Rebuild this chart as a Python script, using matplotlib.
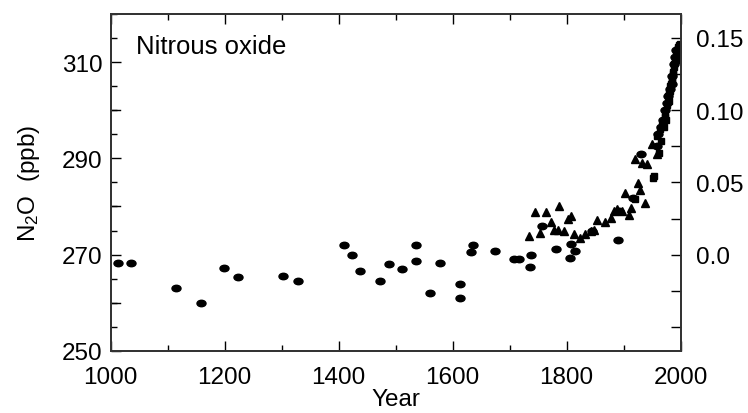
import matplotlib
matplotlib.use('Agg')
import matplotlib.pyplot as plt
from matplotlib.path import Path
from matplotlib.transforms import Affine2D
from matplotlib.ticker import MultipleLocator, FixedLocator

plt.rcParams['font.family'] = ['Liberation Sans', 'DejaVu Sans']
plt.rcParams['mathtext.fontset'] = 'custom'
plt.rcParams['mathtext.rm'] = 'Liberation Sans'
plt.rcParams['mathtext.default'] = 'regular'

# ice core samples (circles)
circle_year = [1012, 1036, 1115, 1159, 1198, 1224, 1302, 1329, 1410, 1424, 1437,
               1473, 1488, 1511, 1536, 1536, 1561, 1578, 1612, 1613, 1633, 1635,
               1675, 1708, 1716, 1735, 1738, 1756, 1782, 1805, 1807, 1814, 1845,
               1890, 1892, 1917, 1931]
circle_ppb = [268.3, 268.3, 263.0, 260.0, 267.3, 265.3, 265.6, 264.6, 271.9, 270.0, 266.7,
              264.6, 268.0, 267.0, 272.0, 268.6, 262.0, 268.2, 264.0, 261.0, 270.6, 272.0,
              270.7, 269.1, 269.1, 267.5, 269.9, 276.0, 271.2, 269.3, 272.3, 270.7, 275.0,
              273.1, 279.0, 281.8, 291.0]

# second core (triangles)
tri_year = [1734, 1744, 1754, 1764, 1773, 1778, 1784, 1787, 1795, 1803, 1808, 1813,
            1824, 1833, 1842, 1848, 1853, 1868, 1877, 1883, 1888, 1897, 1903, 1909,
            1913, 1919, 1925, 1929, 1933, 1938, 1941, 1950, 1958]
tri_ppb = [273.8, 278.8, 274.5, 278.9, 276.8, 275.2, 275.2, 280.0, 274.9, 277.3, 278.0, 274.2,
           273.4, 274.2, 274.9, 275.2, 277.1, 276.8, 277.6, 279.0, 279.4, 279.0, 282.8, 278.3,
           279.7, 289.9, 284.9, 283.5, 289.1, 280.8, 288.8, 293.0, 290.8]

# firn air and atmospheric measurements (squares)
sq_year = [1920, 1951, 1953, 1959, 1962, 1964, 1966, 1968, 1970, 1972, 1973, 1975, 1976,
           1978, 1979, 1980, 1981, 1982, 1983, 1984, 1985, 1986, 1987, 1988, 1989, 1990,
           1991, 1992, 1993, 1994, 1995, 1996, 1997, 1998]
sq_ppb = [281.5, 286.0, 286.3, 294.6, 291.2, 296.0, 293.5, 297.0, 296.5, 298.5, 299.5, 298.0, 301.0,
          303.0, 302.0, 303.5, 304.0, 305.0, 305.5, 306.5, 306.5, 307.5, 308.0, 309.0, 309.5, 310.0,
          310.5, 311.5, 312.0, 312.4, 312.8, 313.2, 313.6, 313.8]

# later firn samples overlapping the square series (circles)
firn_year = [1958, 1961, 1965, 1969, 1973, 1976, 1978, 1981, 1984, 1985, 1988, 1990, 1992]
firn_ppb = [292.5, 295.0, 296.5, 298.0, 300.0, 301.5, 303.0, 304.5, 305.5, 307.0, 309.5, 311.0, 312.4]

ellipse = Path.unit_circle().transformed(Affine2D().scale(1.4, 1.0))

fig = plt.figure(figsize=(7.48, 4.14), dpi=100)
ax = fig.add_axes([0.148, 0.150, 0.762, 0.814])

ax.plot(circle_year, circle_ppb, ls='none', marker=ellipse, ms=6.5, color='k', clip_on=False)
ax.plot(tri_year, tri_ppb, ls='none', marker='^', ms=5.2, color='k')
ax.plot(sq_year, sq_ppb, ls='none', marker='s', ms=5.0, color='k')
ax.plot(firn_year, firn_ppb, ls='none', marker=ellipse, ms=6.5, color='k')

ax.set_xlim(1000, 2000)
ax.set_ylim(250, 320)

ax.xaxis.set_major_locator(FixedLocator([1000, 1200, 1400, 1600, 1800, 2000]))
ax.xaxis.set_minor_locator(MultipleLocator(100))
ax.yaxis.set_major_locator(FixedLocator([250, 270, 290, 310]))
ax.yaxis.set_minor_locator(MultipleLocator(5))
# long ticks every 10 ppb without labels
for v in [260, 280, 300]:
    ax.axhline(v, xmin=0, xmax=0.016, color='k', lw=1.0)

ax.tick_params(which='both', direction='in', top=True, right=False, labelsize=17.5, width=1.0, color='k')
ax.tick_params(which='major', length=7, pad=6)
ax.tick_params(axis='x', which='major', pad=11)
ax.tick_params(which='minor', length=4)

ax.set_xlabel('Year', fontsize=17.5, labelpad=0)
ax.set_ylabel('N$_2$O  (ppb)', fontsize=17.5, labelpad=14)

ax.text(0.045, 0.94, 'Nitrous oxide', transform=ax.transAxes, fontsize=18.5, va='top', ha='left')

# radiative forcing scale on the right
ax2 = ax.twinx()
ax2.set_ylim((250 - 270) / 300.0, (320 - 270) / 300.0)
ax2.yaxis.set_major_locator(FixedLocator([0.0, 0.05, 0.10, 0.15]))
ax2.yaxis.set_minor_locator(FixedLocator([-0.05, -0.025, 0.025, 0.075, 0.125]))
ax2.set_yticklabels(['0.0', '0.05', '0.10', '0.15'])
ax2.tick_params(which='both', direction='in', length=7, width=1.0, labelsize=17.5, pad=11)

for a in (ax, ax2):
    for s in a.spines.values():
        s.set_linewidth(1.3)
        s.set_color('#333333')

fig.savefig('out.png', dpi=100)
